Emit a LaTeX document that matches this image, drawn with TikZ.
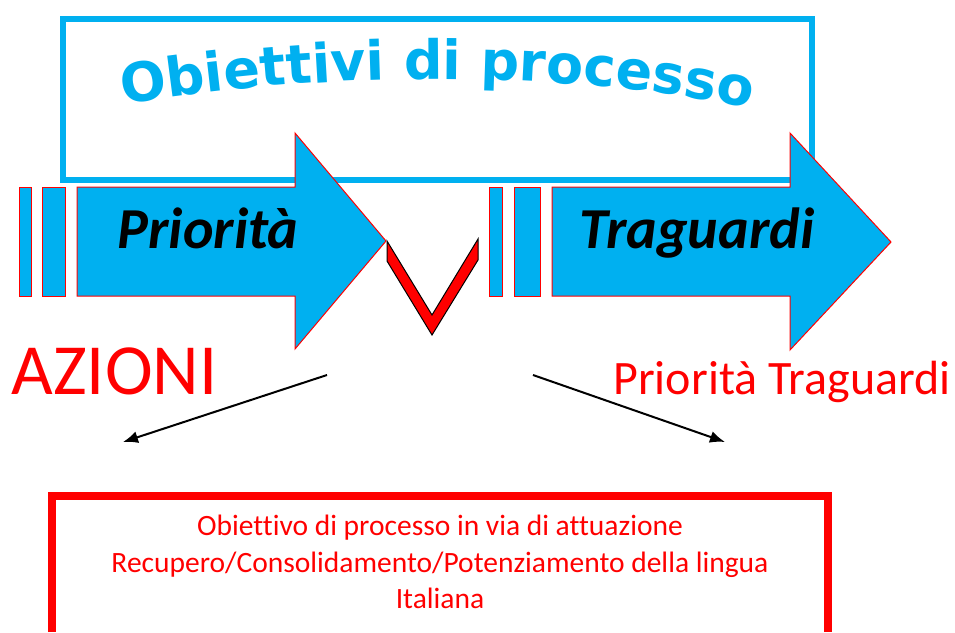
\documentclass[tikz,border=0pt]{standalone}
\usepackage{fontspec}
\setmainfont{Carlito}[Ligatures=NoCommon]
\newfontfamily\titlefont{DejaVu Sans}
\usetikzlibrary{decorations.text,arrows.meta}
\definecolor{cyanB}{HTML}{00B0F0}
\definecolor{redB}{HTML}{FF0000}
\newcommand\titlestyle{\titlefont\bfseries\fontsize{54}{60}\selectfont}
\begin{document}
\begin{tikzpicture}[x=1pt,y=-1pt,
  arrowshape/.style={fill=cyanB,draw=redB,line width=1pt,line join=miter},
  bigword/.style={font=\bfseries\itshape\fontsize{58}{60}\selectfont,anchor=base,inner sep=0pt},
  redlabel/.style={text=redB,anchor=base,inner sep=0pt},
  boxline/.style={redlabel,font=\fontsize{29.5}{32}\selectfont},
  pointer/.style={draw=black,line width=2pt,-{Latex[length=15pt,width=12pt]}}]
\path[use as bounding box] (0,0) rectangle (955,632);
% title frame
\draw[cyanB,line width=6pt] (62.5,19) rectangle (811.5,180);
\path[decorate,decoration={text along path,text={|\titlestyle|Obiettivi di processo},text align=center,text color=cyanB}]
  (122,105) .. controls (330,70) and (560,70) .. (752,108);
% left arrow
\draw[arrowshape] (19,187) rectangle (31,296);
\draw[arrowshape] (42,187) rectangle (65,296);
\draw[arrowshape] (77,187) -- (295,187) -- (295,133) -- (386,241) -- (295,349) -- (295,296) -- (77,296) -- cycle;
% right arrow
\draw[arrowshape] (489,187) rectangle (502,296);
\draw[arrowshape] (514,187) rectangle (540,296);
\draw[arrowshape] (552,187) -- (790,187) -- (790,133) -- (891,242) -- (790,350) -- (790,296) -- (552,296) -- cycle;
% check mark
\draw[fill=redB,draw=black,line width=1pt,line join=miter] (387,241) -- (387,261) -- (432,335) -- (478,260) -- (478,239) -- (432,315) -- cycle;
% words
\node[bigword] (prio) at (208,248) {Priorità};
\node[bigword] (trag) at (697,248) {Traguardi};
\node[redlabel,font=\fontsize{72}{80}\selectfont] (azioni) at (114.5,394) {AZIONI};
\node[redlabel,font=\fontsize{48}{52}\selectfont] (pt) at (782,394) {Priorità Traguardi};
% pointers
\coordinate (a1s) at (327,375);
\coordinate (a1e) at (123,442);
\coordinate (a2s) at (533,375);
\coordinate (a2e) at (725,442);
\draw[pointer] (a1s) -- (a1e);
\draw[pointer] (a2s) -- (a2e);
% bottom box
\draw[redB,line width=8pt,line join=miter] (52,632) -- (52,496) -- (828,496) -- (828,632);
\node[boxline] (l1) at (440,535) {Obiettivo di processo in via di attuazione};
\node[boxline] (l2) at (440,572) {Recupero/Consolidamento/Potenziamento della lingua};
\node[boxline] (l3) at (440,608) {Italiana};
\end{tikzpicture}
\end{document}
